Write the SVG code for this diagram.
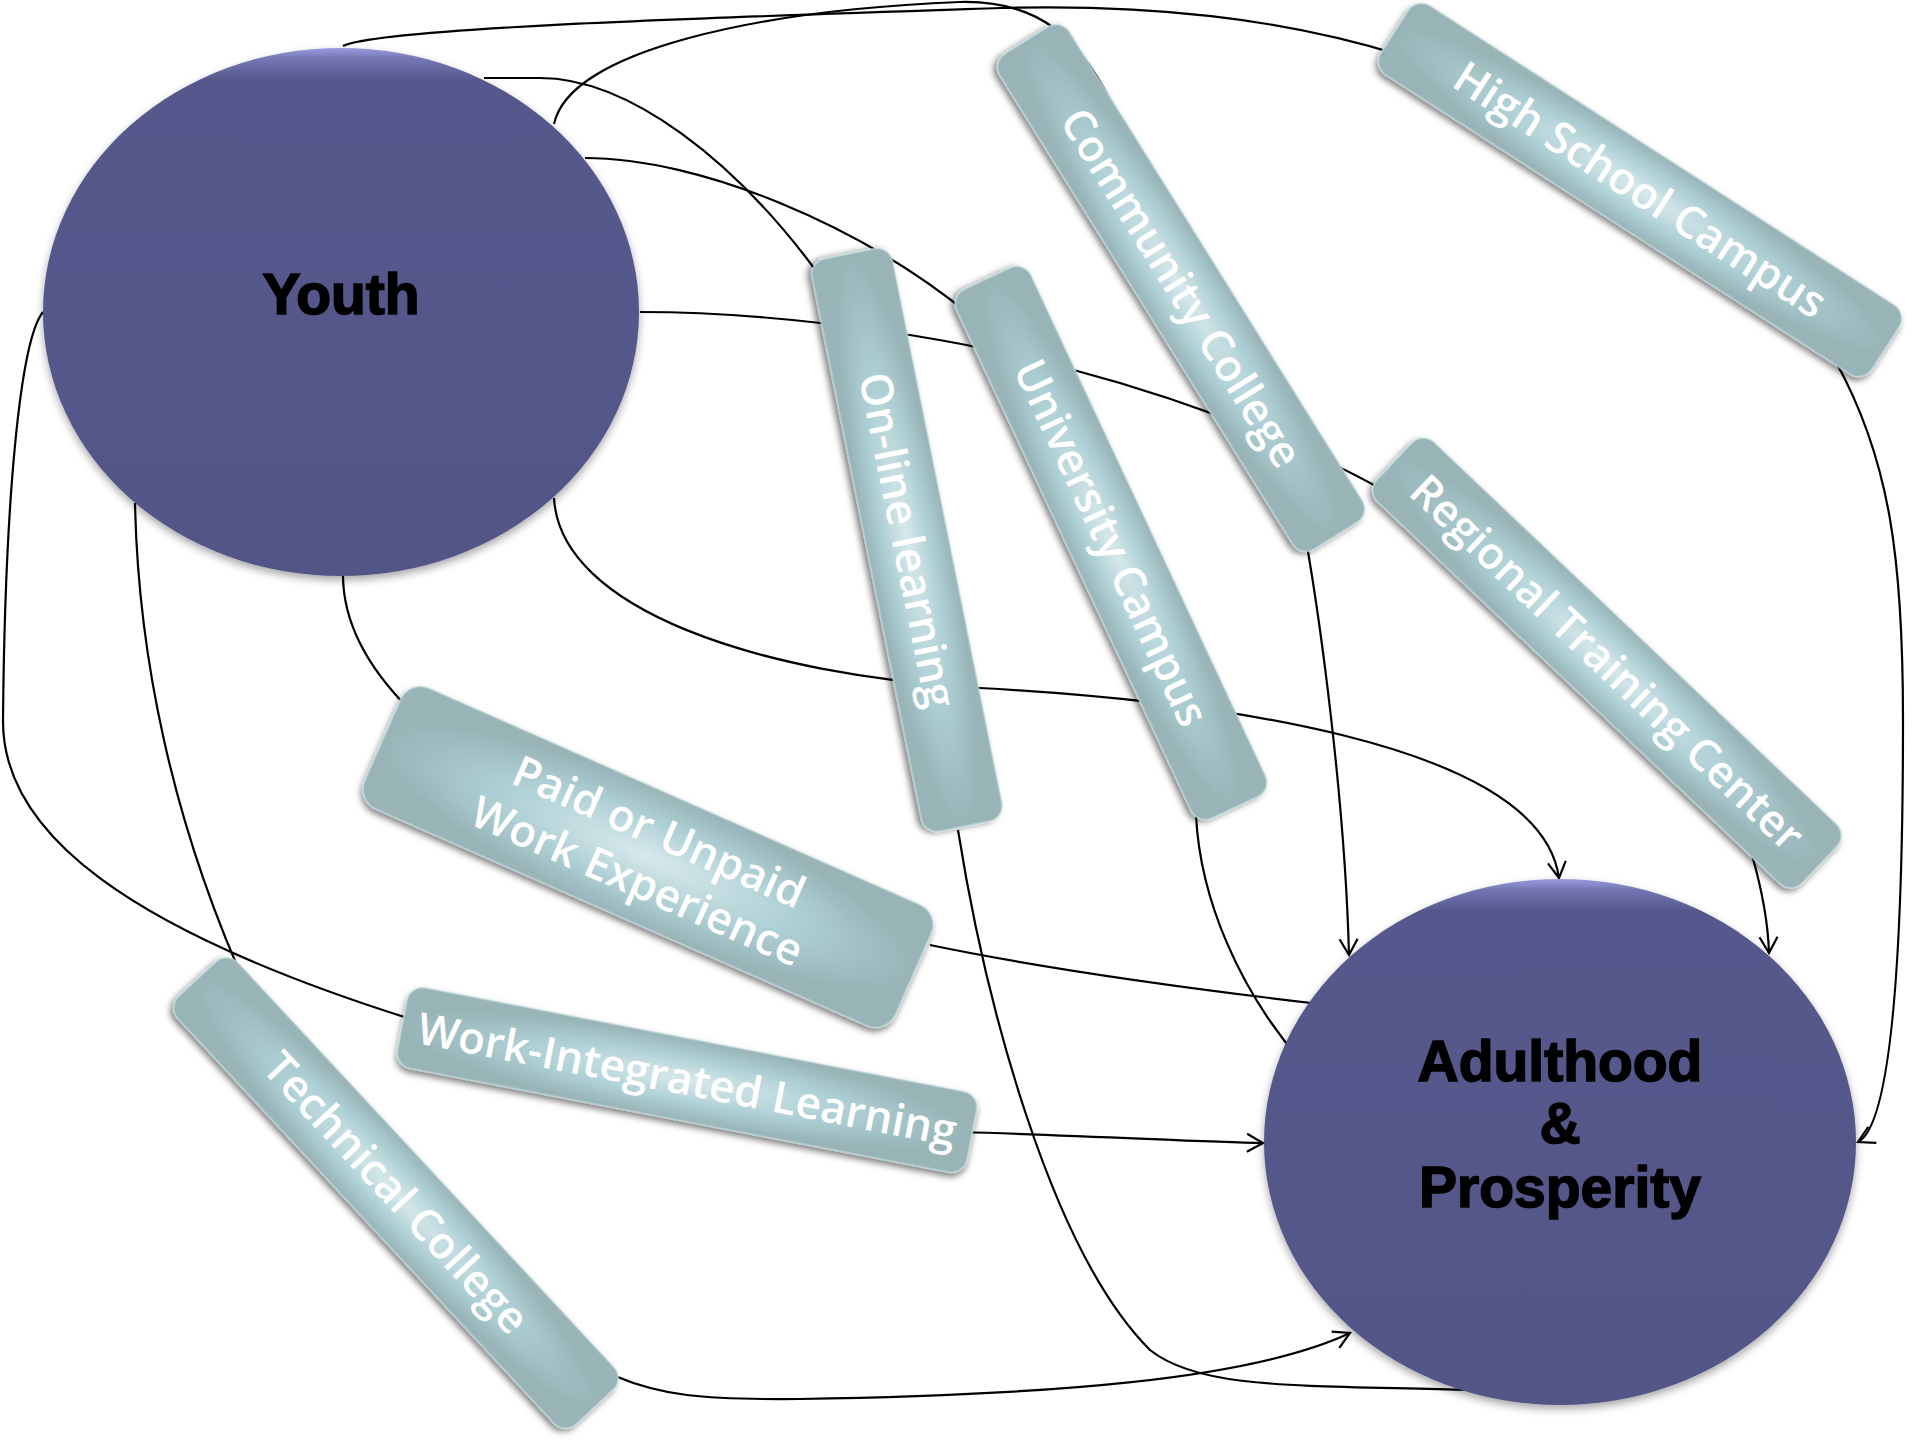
<svg xmlns="http://www.w3.org/2000/svg" width="1920" height="1440" viewBox="0 0 1920 1440">
<style>
.conn path{fill:none;stroke:#000;stroke-width:2.2}
.box rect{fill:url(#boxg);stroke:#c3dcdf;stroke-width:1.2;filter:url(#bshadow)}
.bt{font-family:"Open Sans","Noto Sans",sans-serif;font-size:44px;font-weight:600;fill:#ffffff;text-anchor:middle}
.et{font-family:"Liberation Sans",Arial,sans-serif;font-size:57px;font-weight:bold;fill:#000;stroke:#000;stroke-width:1.6;text-anchor:middle}
.ell{fill:url(#ellg);filter:url(#eshadow)}
</style>
<defs>
<radialGradient id="boxg" cx="0.5" cy="0.5" r="0.5">
<stop offset="0" stop-color="#d8e9ec"/>
<stop offset="0.55" stop-color="#aed0d5"/>
<stop offset="1" stop-color="#98b4b7"/>
</radialGradient>
<linearGradient id="ellg" x1="0" y1="0" x2="0" y2="1">
<stop offset="0" stop-color="#9b9ce0"/>
<stop offset="0.02" stop-color="#7577b4"/>
<stop offset="0.06" stop-color="#57598d"/>
<stop offset="1" stop-color="#535587"/>
</linearGradient>
<filter id="bshadow" x="-10%" y="-40%" width="120%" height="190%">
<feDropShadow dx="0" dy="4" stdDeviation="3" flood-color="#000" flood-opacity="0.5"/>
</filter>
<filter id="eshadow" x="-10%" y="-10%" width="120%" height="125%">
<feDropShadow dx="0" dy="4" stdDeviation="4" flood-color="#000" flood-opacity="0.35"/>
</filter>
<marker id="arr" viewBox="-18 -11 20 22" markerWidth="20" markerHeight="22" refX="0" refY="0" orient="auto" markerUnits="userSpaceOnUse">
<path d="M-16,-9 L0,0 L-16,9" fill="none" stroke="#000" stroke-width="2.2"/>
</marker>
</defs>
<rect width="1920" height="1440" fill="#ffffff"/>
<g id="connectors" class="conn">
<path d="M343,46 C380,28 700,18 1000,8 C1150,4 1280,18 1400,55"/>
<path d="M554,124 C570,50 760,10 960,2 C1040,0 1080,40 1110,100 C1150,170 1190,230 1215,300"/>
<path d="M484,78 L540,78 C625,78 735,155 830,290"/>
<path d="M585,158 C700,158 860,225 970,315"/>
<path d="M640,312 C760,312 900,330 1000,352 C1150,385 1300,440 1400,500"/>
<path d="M554,498 C560,610 760,675 980,688 C1200,700 1540,740 1559,878" marker-end="url(#arr)"/>
<path d="M343,575 C343,620 365,665 410,710"/>
<path d="M135,503 C138,650 170,820 250,995"/>
<path d="M43,312 C20,340 5,500 3,720 C2,830 120,930 430,1025"/>
<path d="M1306,540 C1320,620 1345,800 1349,955" marker-end="url(#arr)"/>
<path d="M1752,855 C1762,890 1768,920 1769,953" marker-end="url(#arr)"/>
<path d="M1836,362 C1890,460 1903,560 1903,720 C1903,950 1892,1125 1858,1142" marker-end="url(#arr)"/>
<path d="M960,1132 C1100,1136 1200,1142 1263,1143" marker-end="url(#arr)"/>
<path d="M615,1376 C660,1395 700,1400 800,1399 C1050,1395 1250,1380 1350,1333" marker-end="url(#arr)"/>
<path d="M958,830 C985,1000 1050,1250 1150,1350 C1200,1390 1300,1385 1470,1390"/>
<path d="M1196,815 C1200,900 1240,990 1300,1060"/>
<path d="M930,945 C1050,970 1200,990 1320,1004"/>
</g>
<g id="youth">
<ellipse class="ell" cx="341" cy="312" rx="298" ry="264"/>
<text class="et" x="341" y="314">Youth</text>
</g>
<g id="adulthood">
<ellipse class="ell" cx="1560" cy="1142" rx="296" ry="263"/>
<text class="et" x="1560" y="1081">Adulthood</text>
<text class="et" x="1560" y="1143">&amp;</text>
<text class="et" x="1560" y="1207">Prosperity</text>
</g>
<g id="online" class="box" transform="translate(907,540) rotate(78.6)">
<rect x="-292" y="-41" width="584" height="82" rx="16"/>
<text class="bt" x="0" y="15">On-line learning</text>
</g>
<g id="university" class="box" transform="translate(1111,543) rotate(64.9)">
<rect x="-292" y="-41" width="584" height="82" rx="16"/>
<text class="bt" x="0" y="15">University Campus</text>
</g>
<g id="community" class="box" transform="translate(1181,288) rotate(58)">
<rect x="-292" y="-41" width="584" height="82" rx="16"/>
<text class="bt" x="0" y="15">Community College</text>
</g>
<g id="highschool" class="box" transform="translate(1640,190) rotate(32.8)">
<rect x="-292" y="-41" width="584" height="82" rx="16"/>
<text class="bt" x="0" y="15">High School Campus</text>
</g>
<g id="regional" class="box" transform="translate(1607,663) rotate(43.5)">
<rect x="-293" y="-41" width="586" height="82" rx="16"/>
<text class="bt" x="0" y="15">Regional Training Center</text>
</g>
<g id="paid" class="box" transform="translate(648,857) rotate(23.8)">
<rect x="-290" y="-66" width="580" height="132" rx="22"/>
<text class="bt" x="0" y="-12">Paid or Unpaid</text>
<text class="bt" x="0" y="42">Work Experience</text>
</g>
<g id="wil" class="box" transform="translate(687,1080) rotate(10.9)">
<rect x="-290" y="-41" width="580" height="82" rx="16"/>
<text class="bt" x="0" y="15">Work-Integrated Learning</text>
</g>
<g id="technical" class="box" transform="translate(396,1193) rotate(47.1)">
<rect x="-292" y="-41" width="584" height="82" rx="16"/>
<text class="bt" x="0" y="15">Technical College</text>
</g>
</svg>
